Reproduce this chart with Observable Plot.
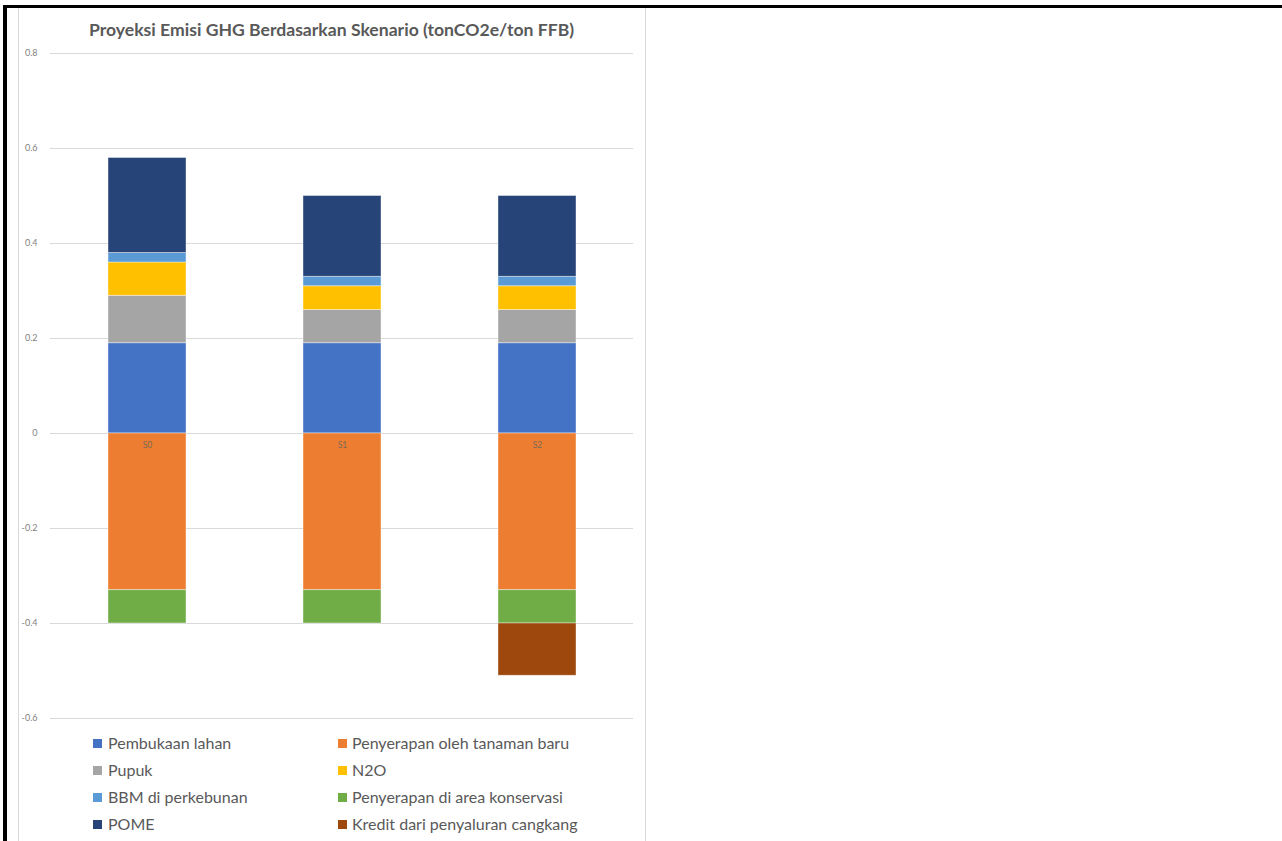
<!DOCTYPE html>
<html>
<head>
<meta charset="utf-8">
<script src="https://cdn.jsdelivr.net/npm/d3@7"></script>
<script src="https://cdn.jsdelivr.net/npm/@observablehq/plot@0.6"></script>
<style>
  html, body { margin: 0; padding: 0; background: #fff; }
  body { width: 1282px; height: 841px; position: relative; overflow: hidden; font-family: Lato, "Open Sans", sans-serif; }
  .abs { position: absolute; }
  #title { left: 18px; width: 627px; top: 19px; text-align: center; font-size: 17.6px; font-weight: bold; color: #595959; white-space: nowrap; }
  .leg { position: absolute; font-size: 16px; color: #595959; white-space: nowrap; line-height: 1; }
  .sw { position: absolute; width: 9px; height: 9px; }
</style>
</head>
<body>
<div class="abs" style="left:3px;top:5px;width:1279px;height:3px;background:#000"></div>
<div class="abs" style="left:3px;top:5px;width:4px;height:836px;background:#000"></div>
<div class="abs" style="left:18px;top:8px;width:626px;height:840px;border-left:1px solid #d9d9d9;border-right:1px solid #d9d9d9;"></div>
<div id="title" class="abs">Proyeksi Emisi GHG Berdasarkan Skenario (tonCO2e/ton FFB)</div>
<div id="chart" class="abs" style="left:18px;top:40px;"></div>
<div id="legend"></div>
<script>
// ---- data ----
const scenarios = ["S0", "S1", "S2"];
const series = [
  "Pembukaan lahan",
  "Penyerapan oleh tanaman baru",
  "Pupuk",
  "N2O",
  "BBM di perkebunan",
  "Penyerapan di area konservasi",
  "POME",
  "Kredit dari penyaluran cangkang"
];
const colors = ["#4472C4", "#ED7D31", "#A5A5A5", "#FFC000", "#5B9BD5", "#70AD47", "#264478", "#9E480E"];
const pembukaanLahan = [0.19, 0.19, 0.19];
const penyerapanTanaman = [-0.33, -0.33, -0.33];
const pupuk = [0.10, 0.07, 0.07];
const n2o = [0.07, 0.05, 0.05];
const bbm = [0.02, 0.02, 0.02];
const penyerapanKonservasi = [-0.07, -0.07, -0.07];
const pome = [0.20, 0.17, 0.17];
const kredit = [0, 0, -0.11];
const yTicks = [-0.6, -0.4, -0.2, 0, 0.2, 0.4, 0.6, 0.8];

const seriesValues = [pembukaanLahan, penyerapanTanaman, pupuk, n2o, bbm, penyerapanKonservasi, pome, kredit];
const data = [];
series.forEach((s, i) => {
  scenarios.forEach((sc, j) => {
    const v = seriesValues[i][j];
    if (v !== 0) data.push({ scenario: sc, series: s, value: v });
  });
});

const chart = Plot.plot({
  width: 627,
  height: 688,
  marginLeft: 32,
  marginRight: 12,
  marginTop: 13,
  marginBottom: 10,
  style: { fontFamily: "Lato, 'Open Sans', sans-serif", background: "transparent" },
  x: { domain: scenarios, paddingInner: 0.6, paddingOuter: 0.29, axis: null },
  y: { domain: [-0.6, 0.8], label: null },
  color: { domain: series, range: colors },
  marks: [
    Plot.ruleY(yTicks, { stroke: "#d9d9d9", strokeWidth: 1 }),
    Plot.axisY(yTicks, { tickSize: 0, tickPadding: 13, fontSize: 9, fill: "#7f7f7f",
       tickFormat: d => d === 0 ? "0" : String(d), label: null }),
    Plot.barY(data, Plot.stackY({
      x: "scenario", y: "value", fill: "series", z: "series", order: series,
      stroke: "#ffffff", strokeOpacity: 0.5, strokeWidth: 0.8
    })),
    Plot.text(scenarios, { x: d => d, y: 0, dy: 12, text: d => d, fontSize: 8.5, fill: "#7a6a5a" })
  ]
});
document.getElementById("chart").appendChild(chart);

// legend
const legend = document.getElementById("legend");
const rowsY = [743, 770, 797, 824];
series.forEach((s, i) => {
  const col = i % 2, row = Math.floor(i / 2);
  const sx = col === 0 ? 93 : 338;
  const tx = col === 0 ? 108 : 352;
  const cy = rowsY[row];
  const sw = document.createElement("div");
  sw.className = "sw";
  sw.style.left = sx + "px";
  sw.style.top = (cy - 4.5) + "px";
  sw.style.background = colors[i];
  legend.appendChild(sw);
  const t = document.createElement("div");
  t.className = "leg";
  t.style.left = tx + "px";
  t.style.top = (cy - 8.5) + "px";
  t.textContent = s;
  legend.appendChild(t);
});
</script>
</body>
</html>
